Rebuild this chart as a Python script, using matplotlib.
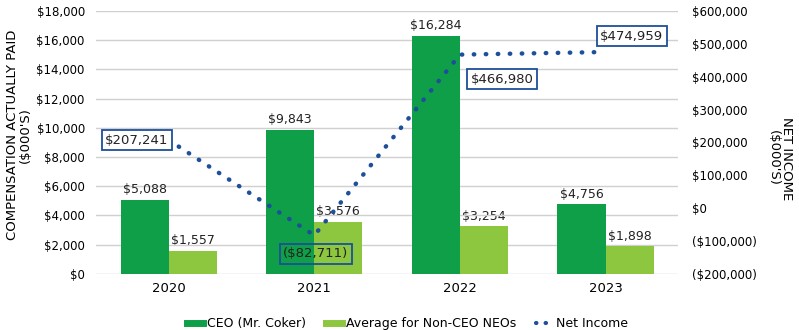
import matplotlib.pyplot as plt
from matplotlib.lines import Line2D
import numpy as np

# Datos
anios = ["2020", "2021", "2022", "2023"]
ceo = [5088, 9843, 16284, 4756]
neo = [1557, 3576, 3254, 1898]
net_income = [207241, -82711, 466980, 474959]
net_labels = ["$207,241", "($82,711)", "$466,980", "$474,959"]

verde = "#0f9f48"
verde_claro = "#8dc63f"
azul = "#1d4f9a"

plt.rcParams["font.family"] = ["DejaVu Sans"]
plt.rcParams["font.size"] = 8.5

fig = plt.figure(figsize=(7.99, 3.30), dpi=100)
ax = fig.add_axes([0.12, 0.17, 0.729, 0.797])
ax2 = ax.twinx()

x = np.arange(len(anios))
w = 0.33

ax.bar(x - w / 2, ceo, w, color=verde, zorder=2)
ax.bar(x + w / 2, neo, w, color=verde_claro, zorder=2)

for xi, v in zip(x, ceo):
    ax.text(xi - w / 2, v + 250, f"${v:,}", ha="center", va="bottom", fontsize=9, color="#222222")
for xi, v in zip(x, neo):
    ax.text(xi + w / 2, v + 250, f"${v:,}", ha="center", va="bottom", fontsize=9,
            color="#222222", zorder=1)

ax.set_ylim(0, 18000)
ax.set_yticks(range(0, 18001, 2000))
ax.set_yticklabels([f"${v:,}" for v in range(0, 18001, 2000)])
ax.set_xlim(-0.5, 3.5)
ax.set_xticks(x)
ax.set_xticklabels(anios, fontsize=9.5)
ax.grid(axis="y", color="#d0d0d0", linewidth=1, zorder=0)
ax.tick_params(length=0, pad=8)
ax.tick_params(axis="x", pad=6)
for s in ax.spines.values():
    s.set_visible(False)
fig.text(0.024, 0.59, "COMPENSATION ACTUALLY PAID\n($000'S)", rotation=90, ha="center",
         va="center", fontsize=9.5, linespacing=1.0)

# Línea de utilidad neta
ax2.plot(x, net_income, linestyle=(0, (0.1, 2.6)), dash_capstyle="round", color=azul,
         linewidth=3.2, zorder=3)
ax2.set_ylim(-200000, 600000)
ticks2 = list(range(-200000, 600001, 100000))
ax2.set_yticks(ticks2)
ax2.set_yticklabels([f"${v:,}" if v >= 0 else f"(${-v:,})" for v in ticks2])
ax2.tick_params(length=0, pad=10)
for s in ax2.spines.values():
    s.set_visible(False)
fig.text(0.976, 0.52, "NET INCOME\n($000'S)", rotation=270, ha="center", va="center",
         fontsize=9.5, linespacing=1.0)

offsets = [(-0.22, 0), (0.01, -56000), (0.29, -75000), (0.18, 48000)]
fills = ["white", "none", "white", "white"]
for i, (dx, dy) in enumerate(offsets):
    ax2.text(x[i] + dx, net_income[i] + dy, net_labels[i], ha="center", va="center",
             fontsize=9.5, color="#222222", zorder=5,
             bbox=dict(boxstyle="square,pad=0.25", facecolor=fills[i], edgecolor=azul, linewidth=1.3))

handles = [
    Line2D([0], [0], color=verde, linewidth=5),
    Line2D([0], [0], color=verde_claro, linewidth=5),
    Line2D([0], [0], color=azul, linewidth=3, linestyle=(0, (0.1, 2.2)), dash_capstyle="round"),
]
fig.legend(handles, ["CEO (Mr. Coker)", "Average for Non-CEO NEOs", "Net Income"],
           loc="lower center", bbox_to_anchor=(0.51, -0.035), ncol=3, frameon=False,
           fontsize=9, handlelength=1.3, handletextpad=0.3, columnspacing=1.6)

fig.savefig("out.png", dpi=100)
